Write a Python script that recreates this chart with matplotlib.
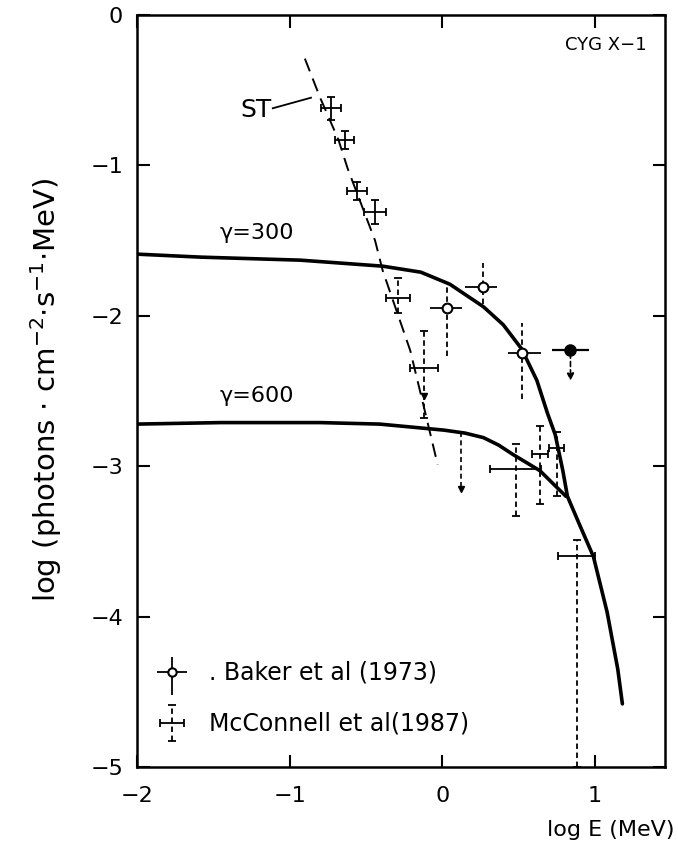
import matplotlib
matplotlib.use('Agg')
import matplotlib.pyplot as plt

# model curves (log E, log flux)
g300_x = [-2.0, -1.58, -0.93, -0.39, -0.14, 0.05, 0.27, 0.40, 0.52, 0.62, 0.69, 0.74, 0.79, 0.82, 0.90, 0.99, 1.08, 1.15, 1.18]
g300_y = [-1.59, -1.61, -1.63, -1.67, -1.71, -1.79, -1.94, -2.06, -2.22, -2.43, -2.65, -2.79, -3.03, -3.20, -3.39, -3.60, -3.97, -4.35, -4.58]
g600_x = [-2.0, -1.45, -0.80, -0.41, 0.01, 0.15, 0.27, 0.37, 0.46, 0.64, 0.73, 0.81]
g600_y = [-2.72, -2.71, -2.71, -2.72, -2.76, -2.78, -2.81, -2.86, -2.92, -3.03, -3.12, -3.20]

# ST dashed line
st_line_x = [-0.90, -0.80, -0.68, -0.62, -0.44, -0.39, -0.21, -0.11, -0.03]
st_line_y = [-0.29, -0.55, -0.83, -1.02, -1.50, -1.70, -2.23, -2.65, -2.99]

# ST points
st_x = [-0.73, -0.64, -0.56, -0.44]
st_y = [-0.62, -0.83, -1.17, -1.31]
st_xerr = [0.065, 0.065, 0.065, 0.07]
st_yerr = [0.075, 0.06, 0.06, 0.08]

# Baker et al (1973), open circles
bk_x = [0.03, 0.27, 0.52]
bk_y = [-1.95, -1.81, -2.25]
bk_xlo = [0.11, 0.12, 0.09]
bk_xhi = [0.10, 0.09, 0.13]
bk_ylo = [0.32, 0.11, 0.30]
bk_yhi = [0.14, 0.16, 0.20]
# Baker filled point (upper limit)
bkf_x, bkf_y = 0.84, -2.23
bkf_xerr = 0.12
bkf_lim = -2.45

# McConnell et al (1987)
mc_x = [-0.29, -0.12, 0.48, 0.64, 0.75, 0.88]
mc_y = [-1.88, -2.35, -3.02, -2.92, -2.88, -3.60]
mc_xerr = [0.08, 0.09, 0.17, 0.05, 0.05, 0.12]
mc_ylo = [0.10, 0.33, 0.31, 0.33, 0.32, 1.40]
mc_yhi = [0.13, 0.25, 0.17, 0.19, 0.11, 0.11]
# McConnell upper limit bar
mcu_x, mcu_top, mcu_bot = 0.12, -2.77, -3.15

xticks = [-2, -1, 0, 1]
yticks = [0, -1, -2, -3, -4, -5]

plt.rcParams['font.family'] = ['DejaVu Sans']

fig = plt.figure(figsize=(6.78, 8.57), dpi=100)
ax = fig.add_axes([0.202, 0.105, 0.779, 0.8775])

ax.plot(g300_x, g300_y, color='black', lw=2.6, solid_capstyle='round', solid_joinstyle='round')
ax.plot(g600_x, g600_y, color='black', lw=2.6, solid_capstyle='round', solid_joinstyle='round')
ax.plot(st_line_x, st_line_y, color='black', lw=1.4, ls=(0, (7, 4)))

eb = ax.errorbar(st_x, st_y, xerr=st_xerr, yerr=st_yerr, fmt='none',
                 ecolor='black', elinewidth=1.3, capsize=3, capthick=1.3)

eb = ax.errorbar(bk_x, bk_y, xerr=[bk_xlo, bk_xhi], yerr=[bk_ylo, bk_yhi],
                 fmt='o', ms=7, mfc='white', mec='black', mew=1.5,
                 ecolor='black', elinewidth=1.3, capsize=0)
eb[2][1].set_linestyle((0, (3, 2)))

eb = ax.errorbar([bkf_x], [bkf_y], xerr=bkf_xerr, fmt='o', ms=8,
                 color='black', elinewidth=1.6, capsize=0)
ax.annotate('', xy=(bkf_x, bkf_lim), xytext=(bkf_x, bkf_y),
            arrowprops=dict(arrowstyle='-|>', color='black', lw=1.2,
                            ls=(0, (3, 2)), mutation_scale=10))

eb = ax.errorbar(mc_x, mc_y, xerr=mc_xerr, yerr=[mc_ylo, mc_yhi], fmt='none',
                 ecolor='black', elinewidth=1.3, capsize=3, capthick=1.3)
eb[2][1].set_linestyle((0, (3, 2)))
ax.plot([mc_x[1]], [-2.53], marker='v', color='black', ms=5)

ax.plot([mcu_x, mcu_x], [mcu_top, mcu_bot], color='black', lw=1.2, ls=(0, (3, 2)))
ax.plot([mcu_x], [mcu_bot], marker='v', color='black', ms=5)

# legend drawn by hand as in the original
ax.errorbar([-1.77], [-4.37], xerr=0.1, yerr=[[0.15], [0.1]], fmt='o', ms=6,
            mfc='white', mec='black', mew=1.5, ecolor='black', elinewidth=1.3)
ax.text(-1.53, -4.37, '. Baker et al (1973)', fontsize=17, va='center', ha='left')
eb = ax.errorbar([-1.77], [-4.71], xerr=0.08, yerr=0.12, fmt='none',
                 ecolor='black', elinewidth=1.3, capsize=3, capthick=1.3)
eb[2][1].set_linestyle((0, (3, 2)))
ax.text(-1.53, -4.71, 'McConnell et al(1987)', fontsize=17, va='center', ha='left')

ax.text(1.07, -0.2, 'CYG X\u22121', fontsize=13, ha='center', va='center')
ax.text(-1.46, -1.45, '\u03b3=300', fontsize=16, ha='left', va='center')
ax.text(-1.46, -2.53, '\u03b3=600', fontsize=16, ha='left', va='center')
ax.text(-1.22, -0.63, 'ST', fontsize=18, ha='center', va='center')
ax.plot([-1.11, -0.86], [-0.62, -0.55], color='black', lw=1.3)

ax.set_xlim(-2, 1.46)
ax.set_ylim(-5, 0)
ax.set_xticks(xticks)
ax.set_yticks(yticks)
ax.tick_params(direction='in', length=9, width=1.5, top=True, right=True,
               labelsize=16)
ax.tick_params(axis='x', pad=14)
ax.tick_params(axis='y', pad=10)
for s in ax.spines.values():
    s.set_linewidth(1.8)

fig.text(0.068, 0.545, 'log (photons $\\cdot$ cm$^{-2}$$\\cdot$s$^{-1}$$\\cdot$MeV)',
         rotation=90, fontsize=21, ha='center', va='center')
fig.text(0.995, 1 - 830 / 857, 'log E (MeV)', fontsize=16, ha='right', va='center')

fig.savefig('out.png', dpi=100)
